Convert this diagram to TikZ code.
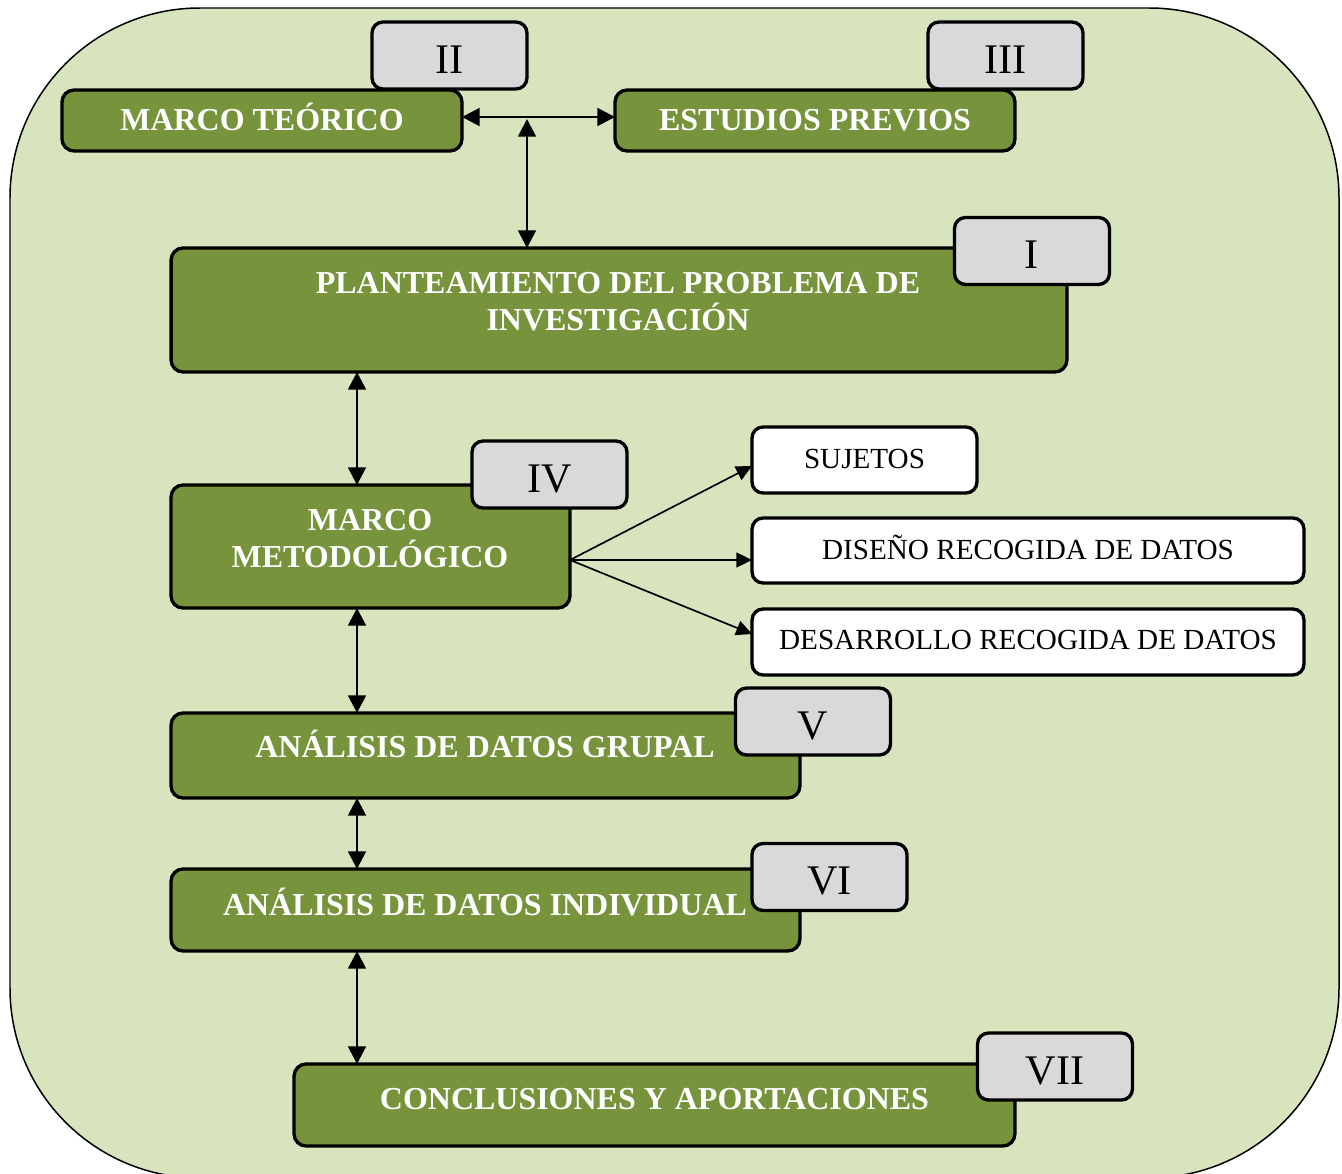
\documentclass[tikz,border=0pt]{standalone}
\usepackage{fontspec}
\setmainfont{Liberation Serif}
\usetikzlibrary{arrows.meta}
\definecolor{panelgreen}{HTML}{D7E4BD}
\definecolor{boxgreen}{HTML}{77933C}
\definecolor{tabgray}{HTML}{D9D9D9}
\tikzset{
  greenbox/.style={draw=black, fill=boxgreen, line width=1.9pt, rounded corners=0.24cm,
    inner sep=0pt, outer sep=0pt},
  whitebox/.style={draw=black, fill=white, line width=1.9pt, rounded corners=0.22cm,
    inner sep=0pt, outer sep=0pt},
  tabbox/.style={draw=black, fill=tabgray, line width=1.9pt, rounded corners=0.22cm,
    inner sep=0pt, outer sep=0pt, minimum width=3.1cm, minimum height=1.34cm},
  greentext/.style={text=white, font=\bfseries\fontsize{18.2}{21}\selectfont,
    inner sep=0pt, text height=12pt, text depth=0pt},
  greentwo/.style={text=white, font=\bfseries\fontsize{18.2}{21}\selectfont,
    inner sep=0pt, align=center},
  tabtext/.style={font=\fontsize{24}{28}\selectfont, inner sep=0pt,
    text height=15.9pt, text depth=0pt},
  whitetext/.style={font=\fontsize{16.6}{20}\selectfont, inner sep=0pt,
    text height=11pt, text depth=0pt},
  link/.style={line width=1.6pt, {Triangle[length=10pt,width=10pt]}-{Triangle[length=10pt,width=10pt]}},
  fanlink/.style={line width=0.95pt, -{Triangle[length=9pt,width=8.5pt]}}
}
\begin{document}
\begin{tikzpicture}[x=0.02cm, y=-0.02cm]
  \useasboundingbox (0,0) rectangle (1342,1173);
  \clip (0,0) rectangle (1342,1173);

  % rounded panel behind everything
  \draw[fill=panelgreen, line width=0.85pt, rounded corners=3.8cm] (10,8) rectangle (1339,1178);

  % main chapter boxes
  \node[greenbox, minimum width=8cm, minimum height=1.22cm] (mt) at (262,120.5) {};
  \node[greenbox, minimum width=8cm, minimum height=1.22cm] (ep) at (815,120.5) {};
  \node[greenbox, minimum width=17.92cm, minimum height=2.48cm] (pp) at (619,310) {};
  \node[greenbox, minimum width=7.98cm, minimum height=2.46cm] (mm) at (370.5,546.5) {};
  \node[greenbox, minimum width=12.58cm, minimum height=1.7cm] (ag) at (485.5,755.5) {};
  \node[greenbox, minimum width=12.58cm, minimum height=1.64cm] (ai) at (485.5,910) {};
  \node[greenbox, minimum width=14.42cm, minimum height=1.64cm] (co) at (654.5,1105) {};

  % box titles
  \node[greentext] (mt-t) at (262,120) {MARCO TEÓRICO};
  \node[greentext] (ep-t) at (815,120) {ESTUDIOS PREVIOS};
  \node[greentwo] (pp-t) at (618,301.5) {PLANTEAMIENTO DEL PROBLEMA DE\\INVESTIGACIÓN};
  \node[greentwo] (mm-t) at (370,539) {MARCO\\METODOLÓGICO};
  \node[greentext] (ag-t) at (485,747) {ANÁLISIS DE DATOS GRUPAL};
  \node[greentext] (ai-t) at (485,905) {ANÁLISIS DE DATOS INDIVIDUAL};
  \node[greentext] (co-t) at (654.5,1099) {CONCLUSIONES Y APORTACIONES};

  % chapter number tabs
  \node[tabbox] (gI) at (1032,251) {};
  \node[tabbox] (gII) at (449.5,55.5) {};
  \node[tabbox] (gIII) at (1005.5,55.5) {};
  \node[tabbox] (gIV) at (549.5,474.5) {};
  \node[tabbox] (gV) at (813,721.5) {};
  \node[tabbox] (gVI) at (829.5,877) {};
  \node[tabbox] (gVII) at (1055,1066.5) {};
  \node[tabtext] (gI-t) at (1032,255) {I};
  \node[tabtext] (gII-t) at (449.5,59.5) {II};
  \node[tabtext] (gIII-t) at (1005.5,59.5) {III};
  \node[tabtext] (gIV-t) at (549.5,478.5) {IV};
  \node[tabtext] (gV-t) at (813,725.5) {V};
  \node[tabtext] (gVI-t) at (829.5,881) {VI};
  \node[tabtext] (gVII-t) at (1055,1070.5) {VII};

  % method components
  \node[whitebox, minimum width=4.5cm, minimum height=1.32cm] (su) at (864.5,460) {};
  \node[whitebox, minimum width=11.04cm, minimum height=1.3cm] (di) at (1028,550.5) {};
  \node[whitebox, minimum width=11.04cm, minimum height=1.32cm] (de) at (1028,642) {};
  \node[whitetext] (su-t) at (864.5,459) {SUJETOS};
  \node[whitetext] (di-t) at (1028,550) {DISEÑO RECOGIDA DE DATOS};
  \node[whitetext] (de-t) at (1028,640) {DESARROLLO RECOGIDA DE DATOS};

  % connectors
  \coordinate (hjoin) at (527,117);
  \coordinate (col) at (357,0);
  \coordinate (fan) at (570,560);
  \draw[link] (mt.east |- hjoin) -- (ep.west |- hjoin);
  \draw[link] ([yshift=-0.04cm]hjoin) -- (pp.north -| hjoin);
  \draw[link] (pp.south -| col) -- (mm.north -| col);
  \draw[link] (mm.south -| col) -- (ag.north -| col);
  \draw[link] (ag.south -| col) -- (ai.north -| col);
  \draw[link] (ai.south -| col) -- (co.north -| col);

  \coordinate (suin) at (752,466);
  \coordinate (diin) at (752,560);
  \coordinate (dein) at (752,634);
  \draw[fanlink] (fan) -- (su.west |- suin);
  \draw[fanlink] (fan) -- (di.west |- diin);
  \draw[fanlink] (fan) -- (de.west |- dein);
\end{tikzpicture}
\end{document}
